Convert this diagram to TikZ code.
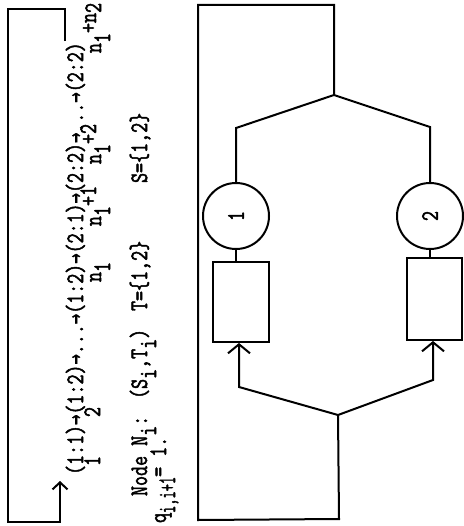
\documentclass[tikz,border=0pt]{standalone}
\usepackage{fontspec}
\usepackage{graphicx}
\newfontfamily\tw{Latin Modern Mono}[FakeBold=2.2,FakeStretch=0.95]
\newfontfamily\arrf{DejaVu Sans Mono}[FakeBold=1]
\usetikzlibrary{arrows.meta}
\newcommand{\tf}{\tw\fontsize{20.5}{24}\selectfont}
\newcommand{\vs}[1]{\scalebox{1}[1.22]{#1}}
\newcommand{\sbx}[1]{\raisebox{-0.36em}{#1}}
\newcommand{\spx}[1]{\raisebox{0.2em}{#1}}
\newcommand{\ra}{\makebox[0.5em]{\arrf\scalebox{0.83}[1]{→}}}
\begin{document}
\begin{tikzpicture}[x=1pt,y=-1pt,line width=2pt,
  txt/.style={rotate=90,anchor=base west,inner sep=0pt,font=\tf},
  lbl/.style={rotate=90,anchor=base,inner sep=0pt,font=\tf},
  barb/.style={-{Straight Barb[length=9pt,width=22pt,line width=2pt]}},
  sbarb/.style={-{Straight Barb[length=7pt,width=15pt,line width=2pt]}},
  stn/.style={circle,draw,minimum size=66pt,inner sep=0pt,font=\tf},
  qbox/.style={draw,inner sep=0pt}]
\useasboundingbox (0,0) rectangle (463,526);
% left text block
\node[txt] (chain) at (83,476) {\vs{(1:1)\ra(1:2)\ra...\ra(1:2)\ra(2:1)\ra(2:2)\ra...\ra(2:2)}};
\node[lbl] (l1) at (100,461) {\vs{1}};
\node[lbl] (l2) at (100,412) {\vs{2}};
\node[lbl] (l3) at (101,272) {\vs{n\sbx{1}}};
\node[lbl] (l4) at (101,206) {\vs{n\sbx{1}\spx{+1}}};
\node[lbl] (l5) at (101,144) {\vs{n\sbx{1}\spx{+2}}};
\node[lbl] (l6) at (101,28) {\vs{n\sbx{1}\spx{+n}2}};
\node[txt] (nd) at (147,497) {\vs{Node N\sbx{i}:}};
\node[txt] (st) at (147,400) {\vs{(S\sbx{i},T\sbx{i})}};
\node[txt] (tt) at (147,312) {\vs{T=\{1,2\}}};
\node[txt] (ss) at (147,184) {\vs{S=\{1,2\}}};
\node[txt] (q) at (166,524) {\vs{q\sbx{\scalebox{0.72}[1]{i,i+1}}= 1.}};
% feedback bracket
\coordinate (bk1) at (8,9);
\coordinate (bk2) at (8,522);
\coordinate (bk3) at (60,522);
\coordinate (bk4) at (60,481);
\draw[sbarb] (chain.north east) |- (bk1) -- (bk2) -- (bk3) -- (bk4);
% right network
\node[stn] (c1) at (236,216) {\rotatebox{90}{\vs{1}}};
\node[stn] (c2) at (430,216) {\rotatebox{90}{\vs{2}}};
\node[qbox,minimum width=56pt,minimum height=80pt] (b1) at (241,302) {};
\node[qbox,minimum width=55pt,minimum height=82pt] (b2) at (434.5,299) {};
\coordinate (tf) at (334,95);
\coordinate (tl) at (236,128);
\coordinate (tr) at (430,127);
\coordinate (bf) at (338,415);
\coordinate (bl) at (239,387);
\coordinate (br) at (433,380);
\coordinate (ftr) at (334,5);
\coordinate (ftl) at (198,5);
\coordinate (fbl) at (198,520);
\coordinate (fbr) at (339,519);
\draw (c1.north) -- (tl) -- (tf) -- (tr) -- (c2.north);
\draw (c1.south) -- (c1.south |- b1.north);
\draw (c2.south) -- (c2.south |- b2.north);
\draw[barb] (bf) -- (bl) -- (bl |- b1.south);
\draw[barb] (bf) -- (br) -- (br |- b2.south);
\draw (tf) -- (ftr) -- (ftl) -- (fbl) -- (fbr) -- (bf);
\end{tikzpicture}
\end{document}
